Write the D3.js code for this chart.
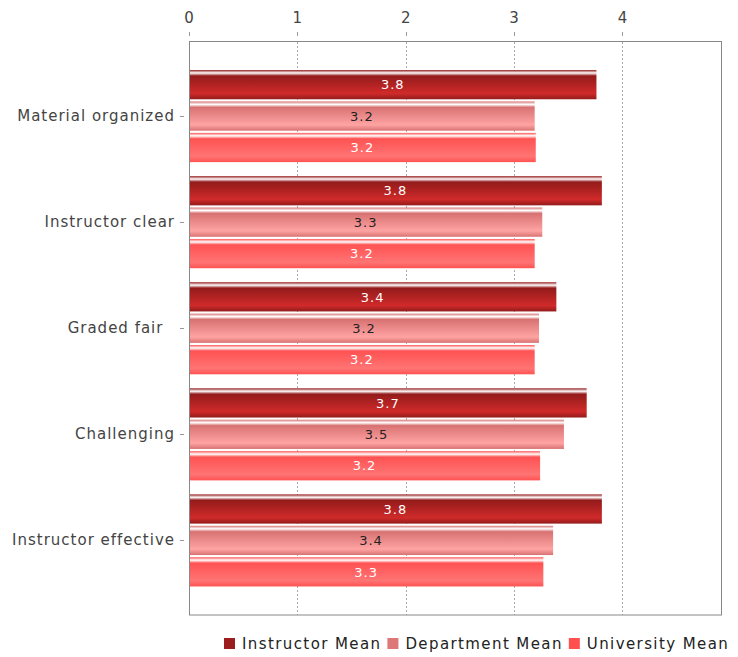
<!DOCTYPE html>
<html>
<head>
  <style type="text/css">
    body { margin: 0; background: #fff; }
    .axis text { font: 15px "DejaVu Sans", sans-serif; fill: #444; letter-spacing: 1px; }
    .axis line { stroke: #999; shape-rendering: crispEdges; }
    .cat text { white-space: pre; }
    .grid line { stroke: #aaa; stroke-dasharray: 2,2; shape-rendering: crispEdges; }
    .val { font: 13px "DejaVu Sans", sans-serif; letter-spacing: 1px; }
    .legend text { font: 15px "DejaVu Sans", sans-serif; fill: #222; letter-spacing: 1.4px; }
  </style>
</head>
<body>
  <div class="svg_container"></div>
  <script src="https://cdnjs.cloudflare.com/ajax/libs/d3/7.8.5/d3.min.js"></script>
  <script type="text/javascript">
    // data
    var categories = ["Material organized", "Instructor clear", "Graded fair  ", "Challenging", "Instructor effective"];
    var series = ["Instructor Mean", "Department Mean", "University Mean"];
    var instructorMean = [3.76, 3.81, 3.39, 3.67, 3.81];
    var departmentMean = [3.19, 3.26, 3.23, 3.46, 3.36];
    var universityMean = [3.20, 3.19, 3.19, 3.24, 3.27];
    var xTicks = [0, 1, 2, 3, 4];

    var values = [instructorMean, departmentMean, universityMean];
    var colors = [
      { c0: "#931b1b", c1: "#d02a2a", label: "#fff", legend: "#9b1d1d" },
      { c0: "#d87272", c1: "#ffa3a3", label: "#222", legend: "#de7878" },
      { c0: "#ff5252", c1: "#ff7474", label: "#fff", legend: "#ff4f4f" }
    ];

    var W = 738, H = 657;
    var plot = { left: 189, top: 41.5, right: 721.5, bottom: 615 };

    var svg = d3.select(".svg_container").append("svg")
      .attr("width", W)
      .attr("height", H);

    var x = d3.scaleLinear()
      .domain([0, 4.914])
      .range([plot.left, plot.right]);

    var y0 = d3.scaleBand()
      .domain(categories)
      .range([plot.top, plot.bottom])
      .paddingInner(0.132)
      .paddingOuter(0.269);

    var y1 = d3.scaleBand()
      .domain(series)
      .range([0, y0.bandwidth()])
      .paddingInner(0.07);

    // gradients, like the bar painter of the original
    var defs = svg.append("defs");
    colors.forEach(function(c, i) {
      var g = defs.append("linearGradient")
        .attr("id", "grad" + i)
        .attr("x1", 0).attr("y1", 0).attr("x2", 0).attr("y2", 1);
      [[0, c.c0], [0.1, "#fff"], [0.2, c.c0], [0.8, c.c1], [1, c.c0]].forEach(function(s) {
        g.append("stop").attr("offset", s[0]).attr("stop-color", s[1]);
      });
    });

    // plot background and gridlines
    svg.append("rect")
      .attr("x", plot.left).attr("y", plot.top)
      .attr("width", plot.right - plot.left).attr("height", plot.bottom - plot.top)
      .attr("fill", "#fff");

    svg.append("g")
      .attr("class", "grid")
      .selectAll("line")
      .data(xTicks.filter(function(t) { return t > 0; }))
      .enter().append("line")
      .attr("x1", function(d) { return Math.round(x(d)) + 0.5; })
      .attr("x2", function(d) { return Math.round(x(d)) + 0.5; })
      .attr("y1", plot.top)
      .attr("y2", plot.bottom);

    // bars
    var rows = [];
    categories.forEach(function(cat, ci) {
      series.forEach(function(s, si) {
        rows.push({ cat: cat, series: s, si: si, value: values[si][ci] });
      });
    });

    var bars = svg.append("g").selectAll("g")
      .data(rows)
      .enter().append("g");

    bars.append("rect")
      .attr("x", x(0))
      .attr("y", function(d) { return y0(d.cat) + y1(d.series); })
      .attr("width", function(d) { return x(d.value) - x(0); })
      .attr("height", y1.bandwidth())
      .attr("fill", function(d) { return "url(#grad" + d.si + ")"; });

    bars.append("text")
      .attr("class", "val")
      .attr("x", function(d) { return (x(0) + x(d.value)) / 2; })
      .attr("y", function(d) { return y0(d.cat) + y1(d.series) + y1.bandwidth() / 2; })
      .attr("dy", "0.36em")
      .attr("text-anchor", "middle")
      .attr("fill", function(d) { return colors[d.si].label; })
      .text(function(d) { return d3.format(".1f")(d.value); });

    // plot border
    svg.append("rect")
      .attr("x", plot.left + 0.5).attr("y", plot.top)
      .attr("width", plot.right - plot.left - 0.5).attr("height", plot.bottom - plot.top)
      .attr("fill", "none")
      .attr("stroke", "#888");

    // top value axis
    svg.append("g")
      .attr("class", "axis")
      .attr("transform", "translate(0,36)")
      .call(d3.axisTop(x).tickValues(xTicks).tickFormat(d3.format("d")).tickSize(4).tickPadding(9))
      .call(function(g) { g.select(".domain").remove(); });

    // left category axis
    svg.append("g")
      .attr("class", "axis cat")
      .attr("transform", "translate(184,0)")
      .call(d3.axisLeft(y0).tickSize(4).tickPadding(5))
      .call(function(g) { g.select(".domain").remove(); });

    // legend
    var legend = svg.append("g").attr("class", "legend");
    var lx = 224;
    series.forEach(function(s, i) {
      legend.append("rect")
        .attr("x", lx).attr("y", 638)
        .attr("width", 11).attr("height", 11)
        .attr("fill", colors[i].legend);
      var t = legend.append("text")
        .attr("x", lx + 18).attr("y", 649)
        .text(s);
      lx += 18 + t.node().getComputedTextLength() + 6;
    });
  </script>
</body>
</html>
